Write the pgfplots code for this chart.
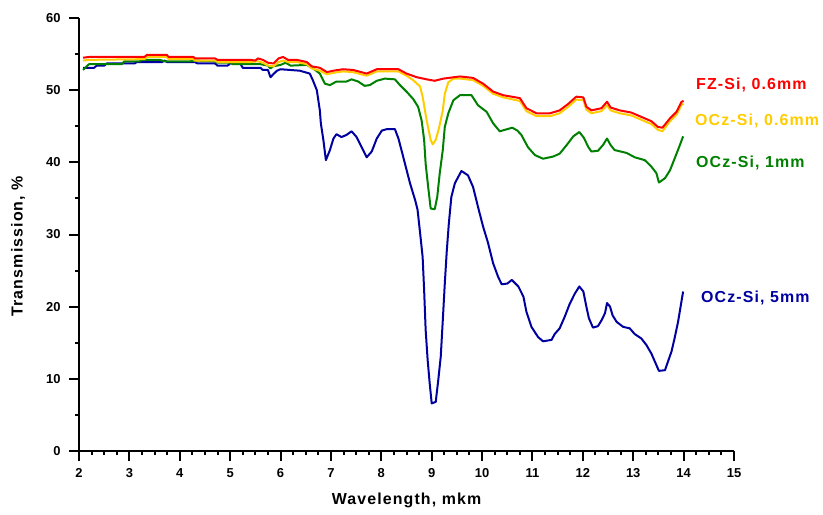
\documentclass[border=0pt]{standalone}
\usepackage{fontspec}
\setmainfont{Liberation Sans}
\newfontfamily\lblfont[LetterSpace=7]{Liberation Sans}
\usepackage{pgfplots}
\pgfplotsset{compat=1.18}
\definecolor{cred}{RGB}{255,0,0}
\definecolor{cgold}{RGB}{255,204,0}
\definecolor{cgreen}{RGB}{0,128,0}
\definecolor{cblue}{RGB}{0,0,160}
\begin{document}
\begin{tikzpicture}
\useasboundingbox (-79bp,-64bp) rectangle (744bp,451bp);
\begin{axis}[
    at={(0,0)}, anchor=south west,
    scale only axis,
    width=655bp, height=433bp,
    xmin=2, xmax=15, ymin=0, ymax=60,
    axis lines=left,
    axis line style={-, line width=2.2bp, black},
    xtick={2,3,...,15}, ytick={0,10,...,60},
    minor x tick num=3, minor y tick num=1,
    tick align=outside,
    major tick length=10bp, minor tick length=4bp,
    tick style={line width=2bp, black},
    tick label style={font=\fontsize{13}{13}\selectfont\bfseries},
    xticklabel style={yshift=-4bp},
    yticklabel style={xshift=-5bp},
    /pgf/number format/assume math mode=true,
    xlabel={Wavelength, mkm},
    ylabel={Transmission, \%},
    label style={font=\lblfont\fontsize{16}{16}\selectfont\bfseries},
    xlabel style={at={(axis description cs:0.5,-0.113)}, anchor=center},
    ylabel style={at={(axis description cs:-0.093,0.473)}, anchor=center},
    clip=false,
    every axis plot/.append style={line width=2bp, line join=round},
]
\addplot[cblue] coordinates {
(2.08,53.1) (2.30,53.1) (2.35,53.4) (2.50,53.4) (2.55,53.7) (3.10,53.7)
(3.15,53.9) (3.65,53.9) (3.70,54.1) (3.75,53.9) (4.30,53.9) (4.35,53.7)
(4.70,53.7) (4.75,53.4) (4.95,53.4) (5.00,53.7) (5.20,53.7) (5.25,53.1)
(5.60,53.1) (5.65,52.8) (5.75,52.8) (5.80,51.8) (5.87,52.3) (5.93,52.7)
(6.00,52.9) (6.38,52.7) (6.58,52.3) (6.64,51.4) (6.72,50.0) (6.78,47.2)
(6.80,45.4) (6.85,43.1) (6.90,40.3) (6.98,41.7) (7.05,43.3) (7.11,43.9)
(7.21,43.5) (7.31,43.8) (7.41,44.3) (7.51,43.5) (7.61,42.1) (7.71,40.7)
(7.81,41.5) (7.91,43.3) (8.01,44.4) (8.11,44.6) (8.27,44.6) (8.34,43.3)
(8.40,41.7) (8.47,39.8) (8.57,37.1) (8.67,34.8) (8.72,33.4) (8.77,30.2)
(8.82,26.9) (8.85,22.3) (8.88,16.8) (8.92,12.6) (8.96,9.4) (9.00,6.6)
(9.08,6.8) (9.13,9.8) (9.18,13.1) (9.22,18.1) (9.26,23.2) (9.30,27.8)
(9.34,31.5) (9.39,35.2) (9.46,37.1) (9.59,38.8) (9.72,38.2) (9.82,36.6)
(9.92,33.8) (10.02,31.1) (10.12,28.8) (10.22,26.0) (10.32,24.1) (10.39,23.1)
(10.50,23.2) (10.59,23.7) (10.72,22.8) (10.82,21.4) (10.88,19.3) (10.98,17.2)
(11.11,15.8) (11.21,15.2) (11.38,15.4) (11.44,16.2) (11.54,17.0) (11.64,18.6)
(11.74,20.4) (11.84,21.8) (11.93,22.8) (12.01,22.1) (12.07,20.0) (12.12,18.4)
(12.20,17.1) (12.30,17.3) (12.37,18.1) (12.44,19.1) (12.48,20.5) (12.54,20.0)
(12.59,18.8) (12.67,17.9) (12.80,17.2) (12.93,17.0) (13.03,16.2) (13.16,15.6)
(13.26,14.7) (13.36,13.5) (13.46,11.9) (13.51,11.1) (13.63,11.2) (13.69,12.4)
(13.76,13.8) (13.82,15.6) (13.89,17.9) (13.94,20.0) (13.99,22.1)
};
\addplot[cgreen] coordinates {
(2.08,52.8) (2.15,53.3) (2.20,53.6) (2.85,53.6) (2.90,54.0) (3.20,54.0)
(3.25,54.2) (3.60,54.2) (3.70,54.0) (4.20,54.0) (4.30,54.1) (4.70,54.0)
(4.75,53.8) (5.00,53.8) (5.05,53.6) (5.60,53.6) (5.75,53.4) (5.80,53.0)
(5.85,53.3) (6.00,53.5) (6.10,53.8) (6.20,53.4) (6.52,53.5) (6.65,53.0)
(6.78,52.3) (6.88,50.9) (6.98,50.7) (7.11,51.2) (7.31,51.2) (7.41,51.5)
(7.54,51.2) (7.67,50.6) (7.77,50.7) (7.91,51.3) (8.07,51.6) (8.27,51.5)
(8.37,50.7) (8.50,49.8) (8.63,48.8) (8.73,47.7) (8.80,45.8) (8.85,43.1)
(8.88,39.8) (8.93,36.6) (8.98,33.6) (9.06,33.5) (9.11,35.2) (9.16,38.5)
(9.22,41.7) (9.26,44.9) (9.33,46.8) (9.43,48.6) (9.56,49.3) (9.79,49.3)
(9.92,47.9) (10.09,47.0) (10.22,45.4) (10.35,44.3) (10.60,44.8) (10.70,44.4)
(10.78,43.8) (10.91,42.1) (11.05,41.0) (11.21,40.5) (11.41,40.8) (11.54,41.2)
(11.68,42.4) (11.81,43.6) (11.93,44.2) (12.02,43.4) (12.11,42.1) (12.17,41.5)
(12.30,41.6) (12.40,42.4) (12.48,43.3) (12.55,42.4) (12.63,41.7) (12.87,41.3)
(13.03,40.7) (13.23,40.3) (13.36,39.4) (13.46,38.5) (13.51,37.2) (13.63,37.8)
(13.73,38.9) (13.82,40.5) (13.91,42.1) (13.99,43.6)
};
\addplot[cgold] coordinates {
(2.08,54.1) (2.20,54.2) (3.30,54.3) (3.35,54.6) (3.74,54.6) (3.78,54.3)
(4.27,54.3) (4.30,54.1) (4.70,54.1) (4.75,53.9) (5.40,53.9) (5.55,54.0)
(5.65,53.8) (5.75,53.4) (5.86,53.3) (5.96,53.9) (6.05,54.1) (6.15,53.9)
(6.32,53.9) (6.52,53.6) (6.62,53.0) (6.78,52.7) (6.92,52.2) (7.05,52.4)
(7.24,52.6) (7.44,52.5) (7.71,52.0) (7.91,52.6) (8.34,52.6) (8.50,52.0)
(8.63,51.4) (8.77,50.5) (8.82,49.1) (8.90,45.8) (8.98,43.1) (9.02,42.5)
(9.08,43.1) (9.15,44.9) (9.22,47.2) (9.26,49.5) (9.33,51.1) (9.43,51.6)
(9.56,51.6) (9.82,51.4) (10.02,50.6) (10.22,49.5) (10.42,49.0) (10.75,48.5)
(10.88,47.1) (11.08,46.4) (11.35,46.4) (11.54,46.8) (11.71,47.7) (11.87,48.7)
(12.01,48.6) (12.07,47.3) (12.17,46.8) (12.37,47.1) (12.48,47.9) (12.55,47.2)
(12.73,46.8) (12.96,46.5) (13.16,45.9) (13.36,45.3) (13.49,44.5) (13.58,44.3)
(13.73,45.7) (13.86,46.6) (13.96,48.0) (14.00,48.1)
};
\addplot[cred] coordinates {
(2.08,54.5) (2.20,54.6) (3.30,54.6) (3.35,54.9) (3.74,54.9) (3.78,54.6)
(4.27,54.6) (4.30,54.4) (4.70,54.4) (4.75,54.2) (5.40,54.2) (5.50,54.1)
(5.55,54.4) (5.65,54.2) (5.75,53.8) (5.86,53.7) (5.96,54.4) (6.05,54.6)
(6.15,54.2) (6.32,54.2) (6.52,53.9) (6.62,53.3) (6.78,53.1) (6.92,52.5)
(7.05,52.7) (7.24,52.9) (7.44,52.8) (7.71,52.3) (7.91,52.9) (8.34,52.9)
(8.50,52.3) (8.70,51.8) (8.90,51.5) (9.06,51.3) (9.23,51.6) (9.56,51.9)
(9.82,51.7) (10.02,50.9) (10.22,49.8) (10.42,49.3) (10.75,48.9) (10.88,47.5)
(11.08,46.8) (11.35,46.8) (11.54,47.2) (11.71,48.1) (11.87,49.1) (12.01,49.0)
(12.07,47.7) (12.17,47.2) (12.37,47.5) (12.48,48.4) (12.55,47.6) (12.73,47.2)
(12.96,46.9) (13.16,46.3) (13.36,45.7) (13.49,44.9) (13.58,44.8) (13.73,46.1)
(13.86,47.0) (13.96,48.4) (14.00,48.5)
};
\tikzset{lbl/.style={anchor=west, font=\lblfont\fontsize{16}{16}\selectfont\bfseries}}
\node[lbl, text=cred] at (axis cs:14.18,50.7) {FZ-Si, 0.6mm};
\node[lbl, text=cgold] at (axis cs:14.16,45.8) {OCz-Si, 0.6mm};
\node[lbl, text=cgreen] at (axis cs:14.18,39.9) {OCz-Si, 1mm};
\node[lbl, text=cblue] at (axis cs:14.28,21.2) {OCz-Si, 5mm};
\end{axis}
\end{tikzpicture}
\end{document}
